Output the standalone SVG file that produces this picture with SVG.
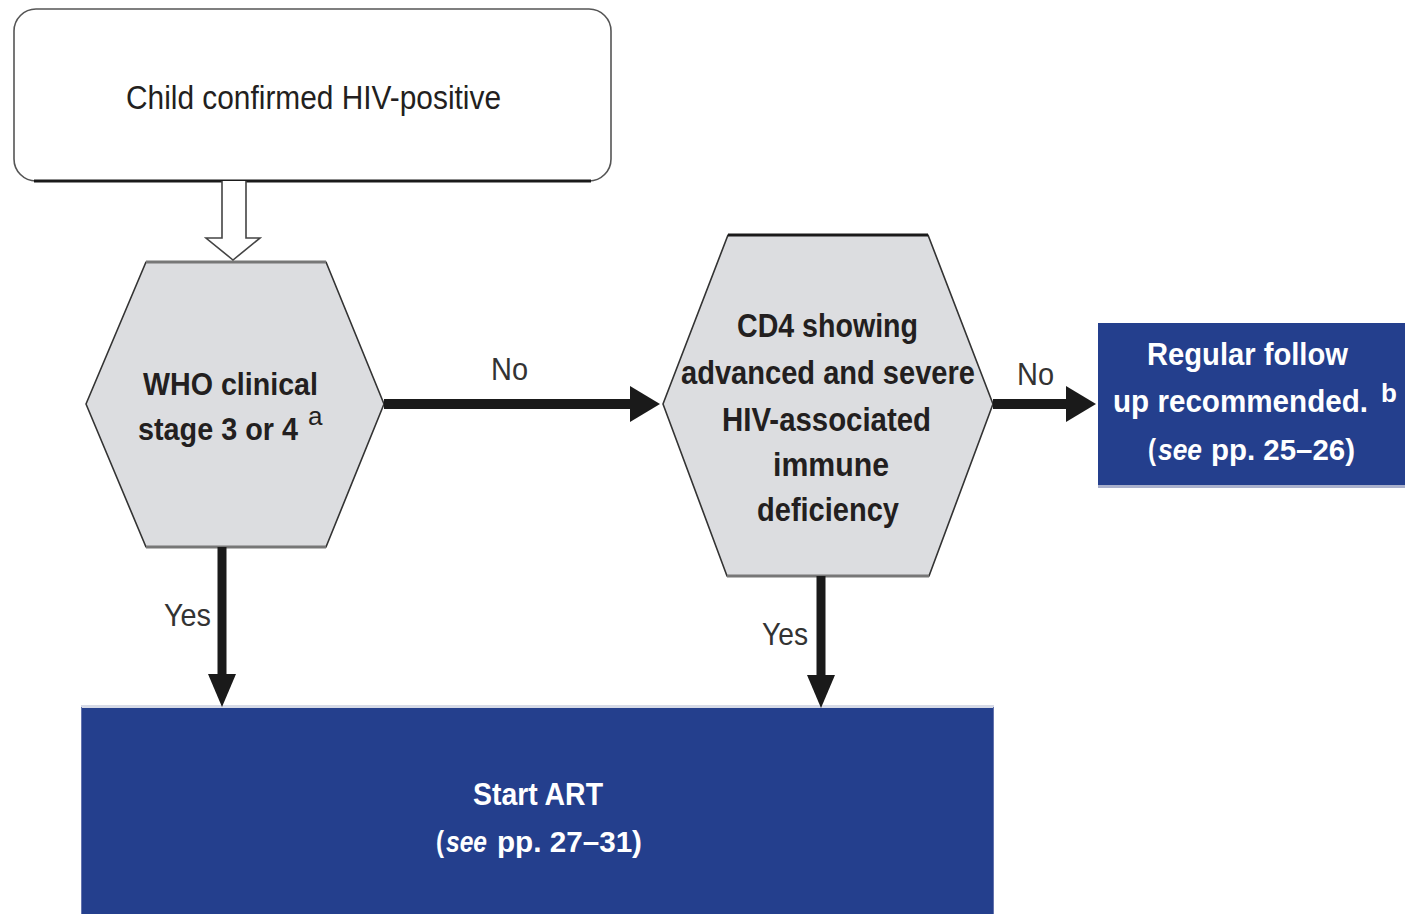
<svg xmlns="http://www.w3.org/2000/svg" width="1405" height="914" viewBox="0 0 1405 914">
<defs>
<style>
.t{font-family:"Liberation Sans",Arial,sans-serif;}
.dark{fill:#231f20;}
.lbl{fill:#333;font-size:32px;}
.b{font-weight:bold;}
.i{font-style:italic;}
.w{fill:#ffffff;}
.hex{fill:#dcdde0;stroke:#333;stroke-width:1.6;stroke-linejoin:round;}
.hexedge{stroke:#777;stroke-width:3;fill:none;}
.blue{fill:#243f8d;}
.conn{stroke:#1a1a1a;fill:none;}
</style>
<marker id="ah" markerUnits="userSpaceOnUse" markerWidth="30" markerHeight="36" refX="16" refY="18" orient="auto">
<path d="M0,0 L30,18 L0,36 Z" fill="#1a1a1a"/>
</marker>
<marker id="av" markerUnits="userSpaceOnUse" markerWidth="33" markerHeight="28" refX="17" refY="14" orient="auto">
<path d="M0,0 L33,14 L0,28 Z" fill="#1a1a1a"/>
</marker>
</defs>
<rect width="1405" height="914" fill="#ffffff"/>

<g id="node-start">
<rect x="14" y="9" width="597" height="172" rx="22" ry="22" fill="#ffffff" stroke="#555" stroke-width="1.6"/>
<path d="M34,181 L591,181" stroke="#1a1a1a" stroke-width="3"/>
<text class="t dark" x="126" y="109" font-size="34" textLength="375" lengthAdjust="spacingAndGlyphs">Child confirmed HIV-positive</text>
</g>

<g id="node-who">
<polygon class="hex" points="146,262 326,262 384,404 326,547 146,547 86,404"/>
<path class="hexedge" d="M146,262 L326,262 M146,547 L326,547"/>
<text class="t dark b" x="143" y="395" font-size="32" textLength="175" lengthAdjust="spacingAndGlyphs">WHO clinical</text>
<text class="t dark b" x="138" y="440" font-size="30.5" textLength="160" lengthAdjust="spacingAndGlyphs">stage 3 or 4</text>
<text class="t dark" x="308" y="425" font-size="26">a</text>
</g>

<g id="node-cd4">
<polygon class="hex" points="728,235 928,235 993,404 929,576 727,576 663,404"/>
<path d="M728,235 L928,235" stroke="#1a1a1a" stroke-width="3"/>
<path class="hexedge" d="M727,576 L929,576"/>
<text class="t dark b" x="737" y="337" font-size="33" textLength="181" lengthAdjust="spacingAndGlyphs">CD4 showing</text>
<text class="t dark b" x="681" y="384" font-size="33" textLength="294" lengthAdjust="spacingAndGlyphs">advanced and severe</text>
<text class="t dark b" x="722" y="431" font-size="33" textLength="209" lengthAdjust="spacingAndGlyphs">HIV-associated</text>
<text class="t dark b" x="773" y="476" font-size="33" textLength="116" lengthAdjust="spacingAndGlyphs">immune</text>
<text class="t dark b" x="757" y="521" font-size="33" textLength="142" lengthAdjust="spacingAndGlyphs">deficiency</text>
</g>

<g id="node-followup">
<rect class="blue" x="1098" y="323" width="307" height="163"/>
<rect x="1098" y="485" width="307" height="3" fill="#a9b0cc"/>
<text class="t w b" x="1147" y="365" font-size="31" textLength="201" lengthAdjust="spacingAndGlyphs">Regular follow</text>
<text class="t w b" x="1113" y="412" font-size="30.5" textLength="255" lengthAdjust="spacingAndGlyphs">up recommended.</text>
<text class="t w b" x="1381" y="402" font-size="26">b</text>
<text class="t w b" x="1148" y="460" font-size="29" textLength="8" lengthAdjust="spacingAndGlyphs">(</text>
<text class="t w b i" x="1158" y="460" font-size="30" textLength="44" lengthAdjust="spacingAndGlyphs">see</text>
<text class="t w b" x="1211" y="460" font-size="29" textLength="144" lengthAdjust="spacingAndGlyphs">pp. 25–26)</text>
</g>

<g id="node-art">
<rect class="blue" x="81" y="707" width="913" height="207"/>
<rect x="81" y="705" width="913" height="3" fill="#d6dae7"/>
<path d="M81.5,707 V914 M993.5,707 V914" stroke="#6373ad" stroke-width="1"/>
<text class="t w b" x="473" y="805" font-size="32" textLength="130" lengthAdjust="spacingAndGlyphs">Start ART</text>
<text class="t w b" x="436" y="852" font-size="29" textLength="8" lengthAdjust="spacingAndGlyphs">(</text>
<text class="t w b i" x="446" y="852" font-size="30" textLength="41" lengthAdjust="spacingAndGlyphs">see</text>
<text class="t w b" x="497" y="852" font-size="29.5" textLength="145" lengthAdjust="spacingAndGlyphs">pp. 27–31)</text>
</g>

<g id="connectors">
<path d="M222,181 V238 H206 L233,260 L260,238 H246 V181" fill="#ffffff" stroke="#444" stroke-width="1.6" stroke-linejoin="miter"/>
<path class="conn" d="M384,404 H646" stroke-width="10" marker-end="url(#ah)"/>
<path class="conn" d="M993,404 H1082" stroke-width="10" marker-end="url(#ah)"/>
<path class="conn" d="M222,547 V691" stroke-width="9" marker-end="url(#av)"/>
<path class="conn" d="M821,576 V692" stroke-width="9" marker-end="url(#av)"/>
<text class="t lbl" x="491" y="380" textLength="37" lengthAdjust="spacingAndGlyphs">No</text>
<text class="t lbl" x="1017" y="385" textLength="37" lengthAdjust="spacingAndGlyphs">No</text>
<text class="t lbl" x="164" y="626" textLength="47" lengthAdjust="spacingAndGlyphs">Yes</text>
<text class="t lbl" x="762" y="645" textLength="46" lengthAdjust="spacingAndGlyphs">Yes</text>
</g>
</svg>
